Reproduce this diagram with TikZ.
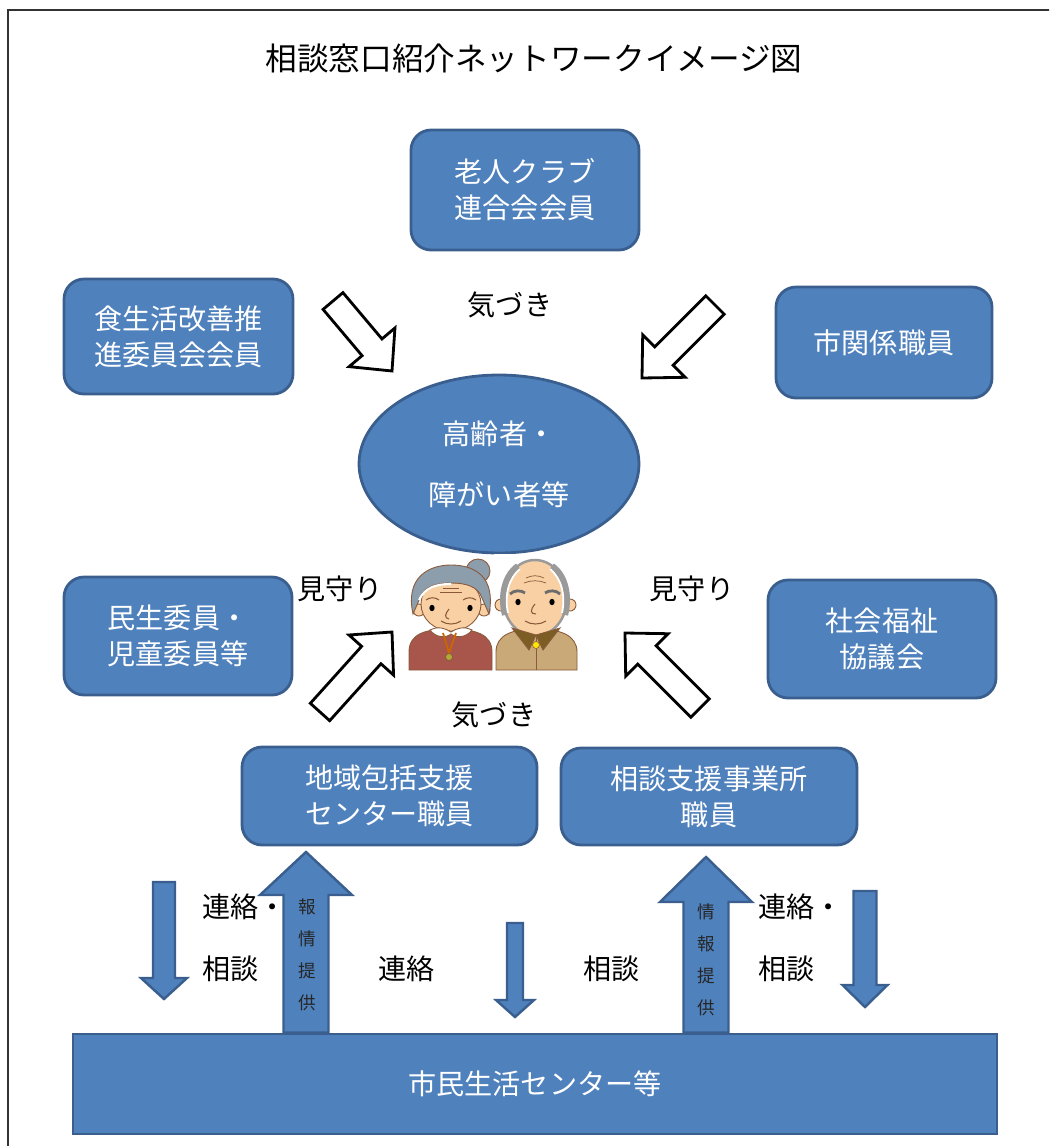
\documentclass[tikz,border=0pt]{standalone}
\usepackage{fontspec}
\setmainfont{Noto Sans CJK JP}
\usetikzlibrary{calc,shapes.geometric}

\definecolor{boxfill}{HTML}{4F81BD}
\definecolor{boxedge}{HTML}{3A5F8E}
\definecolor{framegray}{HTML}{333333}
\definecolor{skin}{HTML}{F8D0A4}
\definecolor{skinline}{HTML}{8A5A3A}
\definecolor{hairblue}{HTML}{8C9DAC}
\definecolor{hairgray}{HTML}{9A9A9A}
\definecolor{sweater}{HTML}{A8554B}
\definecolor{shirt}{HTML}{C9A978}
\definecolor{collarbrown}{HTML}{7C5E24}

\tikzset{
  bluebox/.style={draw=boxedge, fill=boxfill, line width=1.6pt, rounded corners=0.4cm,
    text=white, align=center, inner sep=0pt, font=\fontsize{16}{20.5}\selectfont},
  plainlabel/.style={text=black, inner sep=0pt, font=\fontsize{16}{19}\selectfont},
  hollow/.style={draw=black, fill=white, line width=1.6pt, line join=miter},
  bluearrow/.style={draw=boxedge, fill=boxfill, line width=1.4pt, line join=miter},
  smalltext/.style={text=black!85, align=center, inner sep=0pt, font=\fontsize{10}{18.2}\selectfont},
  outline/.style={draw=skinline, line width=0.5pt},
}

% block arrow: style, tail, tip, shaft half width, head half width, head length
\newcommand{\blockarrow}[6]{%
  \coordinate (#2-base) at ($(#3)!#6!(#2)$);
  \draw[#1] ($(#2)!#4!90:(#3)$) -- ($(#2-base)!#4!90:(#3)$) -- ($(#2-base)!#5!90:(#3)$)
    -- (#3) -- ($(#2-base)!#5!-90:(#3)$) -- ($(#2-base)!#4!-90:(#3)$)
    -- ($(#2)!#4!-90:(#3)$) -- cycle;
}

\begin{document}
\begin{tikzpicture}[x=0.02cm, y=-0.02cm]
\useasboundingbox (0,0) rectangle (1049,1146);
\clip (0,0) rectangle (1049,1146);

% outer frame
\draw[framegray, line width=1.6pt] (8,1170) -- (8,10) -- (1070,10);

% title
\node[font=\fontsize{18}{22}\selectfont] (title) at (534,58) {相談窓口紹介ネットワークイメージ図};

% surrounding members
\node[bluebox, minimum width=4.56cm, minimum height=2.4cm] (club) at (525,190) {老人クラブ\\連合会会員};
\node[bluebox, minimum width=4.58cm, minimum height=2.3cm] (food) at (178.5,336.5) {食生活改善推\\進委員会会員};
\node[bluebox, minimum width=4.32cm, minimum height=2.22cm] (city) at (884,342.5) {市関係職員};
\node[bluebox, minimum width=4.56cm, minimum height=2.36cm] (minsei) at (178,636) {民生委員・\\児童委員等};
\node[bluebox, minimum width=4.56cm, minimum height=2.36cm] (shakyo) at (882,639) {社会福祉\\協議会};
\node[bluebox, minimum width=5.9cm, minimum height=1.96cm] (chiiki) at (389.5,796) {地域包括支援\\センター職員};
\node[bluebox, minimum width=5.92cm, minimum height=1.94cm] (jigyo) at (709,796.5) {相談支援事業所\\職員};
\node[bluebox, rounded corners=0pt, minimum width=18.48cm, minimum height=2.0cm] (center) at (535,1084) {市民生活センター等};

% the people being looked after
\node[ellipse, draw=boxedge, fill=boxfill, line width=1.6pt, minimum width=5.6cm, minimum height=3.56cm,
  inner sep=0pt, text=white, align=center, font=\fontsize{16}{34.7}\selectfont] (elder) at (499,464) {高齢者・\\障がい者等};

% labels
\node[plainlabel] (kizuki1) at (510,305) {気づき};
\node[plainlabel] (kizuki2) at (494,715) {気づき};
\node[plainlabel] (mimamori1) at (340,589) {見守り};
\node[plainlabel] (mimamori2) at (692,589) {見守り};
\node[plainlabel, anchor=west] (renraku1) at (202,907) {連絡・};
\node[plainlabel, anchor=west] (soudan1) at (202,969) {相談};
\node[plainlabel, anchor=west] (renraku2) at (378,969) {連絡};
\node[plainlabel, anchor=west] (soudan2) at (583,969) {相談};
\node[plainlabel, anchor=west] (renraku3) at (758,907) {連絡・};
\node[plainlabel, anchor=west] (soudan3) at (758,969) {相談};

% hollow arrows towards the centre
\coordinate (tl) at (333,301);  \coordinate (tlp) at (392,371);
\coordinate (tr) at (715,305);  \coordinate (trp) at (642,378);
\coordinate (bl) at (320,712);  \coordinate (blp) at (392,632);
\coordinate (br) at (700,708);  \coordinate (brp) at (625,633);
\blockarrow{hollow}{tl}{tlp}{0.26cm}{0.6cm}{0.62cm}
\blockarrow{hollow}{tr}{trp}{0.26cm}{0.6cm}{0.62cm}
\blockarrow{hollow}{bl}{blp}{0.26cm}{0.6cm}{0.62cm}
\blockarrow{hollow}{br}{brp}{0.26cm}{0.6cm}{0.62cm}

% blue arrows between the offices and the centre
\coordinate (d1) at (164,882);  \coordinate (d1p) at (164,999);
\coordinate (d2) at (515,923);  \coordinate (d2p) at (515,1017);
\coordinate (d3) at (865,891);  \coordinate (d3p) at (865,1007);
\blockarrow{bluearrow}{d1}{d1p}{0.22cm}{0.46cm}{0.42cm}
\blockarrow{bluearrow}{d2}{d2p}{0.16cm}{0.38cm}{0.34cm}
\blockarrow{bluearrow}{d3}{d3p}{0.23cm}{0.45cm}{0.44cm}

\coordinate (u1p) at (306,852);  \coordinate (u1) at (u1p |- center.north);
\coordinate (u2p) at (706,857);  \coordinate (u2) at (u2p |- center.north);
\blockarrow{bluearrow}{u1}{u1p}{0.45cm}{0.92cm}{0.86cm}
\blockarrow{bluearrow}{u2}{u2p}{0.45cm}{0.92cm}{0.9cm}
\node[smalltext] (info1) at (307,955) {報\\情\\提\\供};
\node[smalltext] (info2) at (706,960) {情\\報\\提\\供};

% elderly couple
\fill[white] (494,554) rectangle (578,670);
% -- woman
\draw[outline, fill=sweater] (409,670) -- (409,652) .. controls (409,634) and (425,629) .. (450,629)
  .. controls (475,629) and (492,634) .. (492,652) -- (492,670) -- cycle;
\draw[outline, fill=skin] (419,610) circle [radius=6];
\draw[outline, fill=skin] (484,610) circle [radius=6];
\draw[outline, fill=skin] (451,604) ellipse [x radius=30, y radius=27];
\draw[outline, fill=hairblue] (478,571) circle [radius=12];
\draw[outline, fill=hairblue] (413,614) .. controls (405,578) and (428,565) .. (451,565)
  .. controls (476,565) and (496,578) .. (489,614) -- (482,598) .. controls (478,586) and (465,583) .. (451,583)
  .. controls (437,583) and (424,586) .. (420,598) -- cycle;
\draw[white, line width=1.2pt] (419,600) .. controls (425,587) and (437,584) .. (451,584);
\draw[outline, fill=white] (430,630) .. controls (438,626) and (445,628) .. (451,632)
  .. controls (457,628) and (464,626) .. (472,630) .. controls (466,638) and (456,638) .. (451,634)
  .. controls (446,638) and (436,638) .. (430,630) -- cycle;
\draw[orange!80!black, line width=1pt] (443,633) -- (449,653) -- (456,633);
\draw[skinline, fill=olive!70] (449,657) circle [radius=3.5];
\fill (432,608) ellipse [x radius=2.6, y radius=3.2];
\fill (470,608) ellipse [x radius=2.6, y radius=3.2];
\draw[skinline, line width=0.6pt] (426,600) .. controls (430,597) and (435,597) .. (439,600);
\draw[skinline, line width=0.6pt] (463,600) .. controls (467,597) and (472,597) .. (476,600);
\draw[skinline, line width=0.6pt] (449,609) .. controls (445,614) and (444,618) .. (449,619);
\draw[skinline, line width=0.6pt] (441,621) .. controls (447,625) and (455,625) .. (461,621);
\draw[skinline, line width=0.4pt] (440,592) -- (462,592);
\draw[skinline, line width=0.4pt] (443,588) -- (459,588);
% -- man
\draw[outline, fill=shirt] (496,670) -- (496,652) .. controls (496,635) and (512,629) .. (536,629)
  .. controls (560,629) and (577,635) .. (577,652) -- (577,670) -- cycle;
\draw[outline, fill=skin] (501,605) circle [radius=6];
\draw[outline, fill=skin] (570,605) circle [radius=6];
\draw[draw=hairgray, line width=1.4pt, fill=skin] (535,598) ellipse [x radius=32, y radius=38];
\draw[hairgray, line width=3.5pt] (505,615) .. controls (500,595) and (505,575) .. (518,566);
\draw[hairgray, line width=3.5pt] (565,615) .. controls (570,595) and (565,575) .. (552,566);
\draw[white, line width=1pt] (508,613) .. controls (504,595) and (509,578) .. (520,569);
\draw[white, line width=1pt] (562,613) .. controls (566,595) and (561,578) .. (550,569);
\draw[skinline, line width=0.4pt] (526,578) .. controls (532,575) and (538,575) .. (544,578);
\draw[skinline, line width=0.4pt] (524,583) .. controls (531,580) and (539,580) .. (546,583);
\draw[hairgray!70!black, line width=1.6pt] (510,594) .. controls (514,590) and (521,590) .. (525,593);
\draw[hairgray!70!black, line width=1.6pt] (545,593) .. controls (549,590) and (556,590) .. (560,594);
\fill (518,602) ellipse [x radius=2.6, y radius=3.2];
\fill (552,602) ellipse [x radius=2.6, y radius=3.2];
\draw[skinline, line width=0.6pt] (535,604) .. controls (530,610) and (530,614) .. (536,614);
\draw[skinline, line width=0.6pt] (525,621) .. controls (531,625) and (540,625) .. (546,621);
\draw[outline, fill=collarbrown] (512,628) -- (536,635) -- (529,650) -- cycle;
\draw[outline, fill=collarbrown] (560,628) -- (536,635) -- (543,650) -- cycle;
\draw[skinline, line width=0.4pt] (536,635) -- (536,670);
\draw[skinline, line width=0.3pt, fill=yellow!90!orange] (536,645) circle [radius=3.5];
\end{tikzpicture}
\end{document}
